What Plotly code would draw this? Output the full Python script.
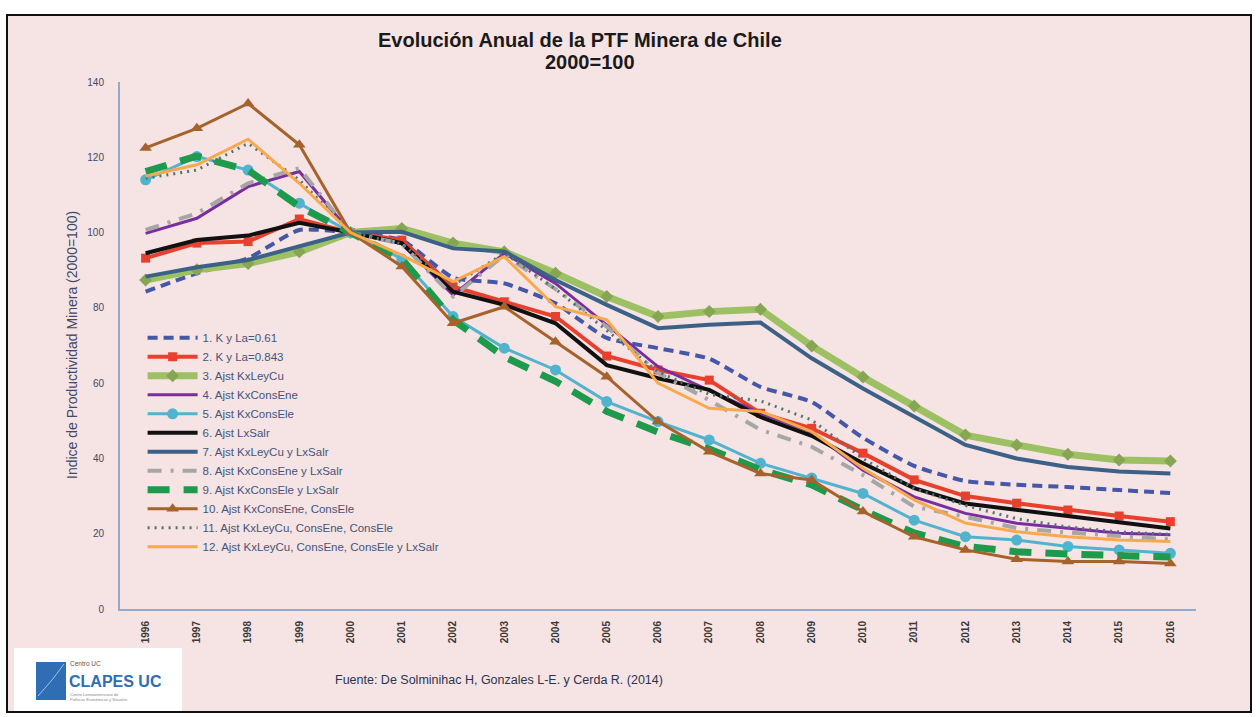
import plotly.graph_objects as go

# Índice de productividad total de factores (PTF) minera, base 2000 = 100
years = list(range(1996, 2017))

k_la_061 = [84.3, 89.2, 93.2, 100.7, 100, 98.0, 88.0, 86.5, 81.2, 72.0, 69.3, 66.5, 59.0, 55.0, 45.5, 38.0, 34.0, 33.0, 32.4, 31.6, 30.8]
k_la_0843 = [93.2, 97.2, 97.6, 103.6, 100, 98.0, 85.6, 81.6, 77.7, 67.2, 63.5, 60.8, 52.0, 48.0, 41.4, 34.3, 30.0, 28.1, 26.3, 24.7, 23.2]
ajst_ley_cu = [87.4, 90.1, 91.8, 94.9, 100, 101.1, 97.2, 94.9, 89.2, 83.0, 77.7, 79.0, 79.6, 69.9, 61.6, 53.9, 46.2, 43.6, 41.1, 39.6, 39.3]
ajst_cons_ene = [99.8, 103.8, 112.2, 116.2, 100, 97.0, 83.4, 94.5, 86.5, 75.5, 64.4, 58.0, 52.0, 47.0, 36.9, 29.8, 25.4, 22.8, 21.4, 20.1, 19.7]
ajst_cons_ele = [114.0, 120.2, 116.6, 107.8, 100, 93.0, 77.7, 69.3, 63.5, 55.1, 49.8, 44.9, 38.7, 34.8, 30.7, 23.6, 19.2, 18.3, 16.6, 15.7, 14.8]
ajst_lx_salr = [94.5, 98.0, 99.2, 102.6, 100, 97.2, 84.3, 80.8, 75.9, 64.8, 61.3, 58.2, 51.0, 46.0, 38.7, 32.1, 28.0, 26.3, 24.8, 23.1, 21.4]
ajst_ley_cu_lx = [88.3, 90.8, 92.7, 96.3, 100, 100.2, 95.8, 95.0, 87.4, 80.8, 74.6, 75.5, 76.1, 66.6, 58.6, 51.1, 43.6, 40.0, 37.7, 36.5, 36.0]
ajst_ene_lx = [100.7, 105.1, 113.1, 117.1, 100, 97.0, 83.0, 94.0, 85.0, 75.0, 62.7, 55.5, 47.6, 43.1, 35.6, 27.2, 24.5, 21.5, 20.3, 19.3, 18.5]
ajst_ele_lx = [116.2, 120.3, 116.6, 106.9, 100, 93.0, 76.8, 67.0, 60.5, 52.5, 47.0, 42.5, 37.0, 33.0, 26.3, 20.2, 16.6, 15.2, 14.6, 14.1, 13.8]
ajst_ene_ele = [122.5, 127.7, 134.3, 123.3, 100, 91.0, 75.9, 80.3, 71.0, 61.7, 49.8, 41.8, 36.0, 34.3, 25.9, 19.2, 15.7, 13.2, 12.6, 12.6, 12.1]
ajst_cu_ene_ele = [114.4, 116.6, 123.7, 114.0, 100, 97.0, 86.0, 94.5, 85.0, 74.0, 63.0, 57.0, 55.3, 50.2, 40.0, 32.0, 27.5, 24.0, 21.8, 20.5, 19.8]
ajst_todos = [115.0, 118.0, 124.8, 113.1, 100, 94.0, 87.0, 93.6, 80.3, 76.8, 60.0, 53.3, 52.5, 47.1, 37.4, 29.0, 22.8, 20.5, 19.2, 18.3, 17.9]

series_names = [
    "1. K y La=0.61",
    "2. K y La=0.843",
    "3. Ajst KxLeyCu",
    "4. Ajst KxConsEne",
    "5. Ajst KxConsEle",
    "6. Ajst LxSalr",
    "7. Ajst KxLeyCu y LxSalr",
    "8. Ajst KxConsEne y LxSalr",
    "9. Ajst KxConsEle y LxSalr",
    "10. Ajst KxConsEne, ConsEle",
    "11. Ajst KxLeyCu, ConsEne, ConsEle",
    "12. Ajst KxLeyCu, ConsEne, ConsEle y LxSalr",
]
series_values = [k_la_061, k_la_0843, ajst_ley_cu, ajst_cons_ene, ajst_cons_ele, ajst_lx_salr,
                 ajst_ley_cu_lx, ajst_ene_lx, ajst_ele_lx, ajst_ene_ele, ajst_cu_ene_ele, ajst_todos]

# line / marker style per series
styles = [
    dict(line=dict(color="#4557A8", width=4, dash="10px,6px", shape="spline", smoothing=0.5), mode="lines"),
    dict(line=dict(color="#E8402E", width=4), mode="lines+markers",
         marker=dict(symbol="square", size=9, color="#E8402E")),
    dict(line=dict(color="#9DC062", width=7), mode="lines+markers",
         marker=dict(symbol="diamond", size=10, color="#86A653")),
    dict(line=dict(color="#7A2E9E", width=3), mode="lines"),
    dict(line=dict(color="#52B3CF", width=3), mode="lines+markers",
         marker=dict(symbol="circle", size=11, color="#52B3CF")),
    dict(line=dict(color="#111111", width=4), mode="lines"),
    dict(line=dict(color="#3C6189", width=4), mode="lines"),
    dict(line=dict(color="#A6A6A6", width=4, dash="14px,9px,3px,9px"), mode="lines"),
    dict(line=dict(color="#1E9A4C", width=7, dash="22px,14px"), mode="lines"),
    dict(line=dict(color="#A5622B", width=3), mode="lines+markers",
         marker=dict(symbol="triangle-up", size=11, color="#A5622B")),
    dict(line=dict(color="#4F7572", width=3, dash="2px,5px"), mode="lines"),
    dict(line=dict(color="#F7A94C", width=3), mode="lines"),
]

fig = go.Figure()
for name, vals, st in zip(series_names, series_values, styles):
    fig.add_trace(go.Scatter(x=years, y=vals, name=name, **st))

FONT = "Liberation Sans, Arial, sans-serif"

# plot area in pixels: x 120..1196, y 82..609
L, R, T, B = 120, 1196, 82, 609


def px(xp):
    return (xp - L) / (R - L)


def py(yp):
    return (B - yp) / (B - T)


shapes = [
    # pink panel with black frame
    dict(type="rect", xref="paper", yref="paper", x0=px(7), x1=px(1251), y0=py(712), y1=py(15),
         fillcolor="#F6E3E3", line=dict(color="#111111", width=2), layer="below"),
    # logo box
    dict(type="rect", xref="paper", yref="paper", x0=px(14), x1=px(182), y0=py(711), y1=py(648),
         fillcolor="#FFFFFF", line=dict(width=0), layer="below"),
    dict(type="rect", xref="paper", yref="paper", x0=px(36), x1=px(66), y0=py(700), y1=py(662),
         fillcolor="#2F6DB5", line=dict(width=0), layer="below"),
    dict(type="path", xref="paper", yref="paper",
         path=f"M {px(38)},{py(696)} L {px(52)},{py(680)} L {px(64)},{py(664)}",
         line=dict(color="#9CC0E6", width=1), layer="below"),
]

annotations = [
    dict(text="<b>Evolución Anual de la PTF Minera de Chile</b>", x=px(580), y=py(40),
         xref="paper", yref="paper", xanchor="center", yanchor="middle", showarrow=False,
         font=dict(family=FONT, size=20, color="#1A1A1A")),
    dict(text="<b>2000=100</b>", x=px(590), y=py(62), xref="paper", yref="paper",
         xanchor="center", yanchor="middle", showarrow=False,
         font=dict(family=FONT, size=20, color="#1A1A1A")),
    dict(text="Indice de Productividad Minera (2000=100)", x=px(72), y=py(345), xref="paper", yref="paper",
         xanchor="center", yanchor="middle", showarrow=False, textangle=-90,
         font=dict(family=FONT, size=14, color="#3E4A6A")),
    dict(text="Fuente: De Solminihac H, Gonzales L-E. y Cerda R. (2014)", x=px(333), y=py(680),
         xref="paper", yref="paper", xanchor="left", yanchor="middle", showarrow=False,
         font=dict(family=FONT, size=12.5, color="#2A3550")),
    dict(text="Centro UC", x=px(68), y=py(663), xref="paper", yref="paper", xanchor="left",
         yanchor="middle", showarrow=False, font=dict(family=FONT, size=6.5, color="#555555")),
    dict(text="<b>CLAPES UC</b>", x=px(67), y=py(681), xref="paper", yref="paper", xanchor="left",
         yanchor="middle", showarrow=False, font=dict(family=FONT, size=16, color="#2F6DB5")),
    dict(text="Centro Latinoamericano de<br>Políticas Económicas y Sociales", x=px(68), y=py(697),
         xref="paper", yref="paper", xanchor="left", yanchor="middle", showarrow=False, align="left",
         font=dict(family=FONT, size=4, color="#888888")),
]

fig.update_layout(
    width=1260, height=717,
    margin=dict(l=L, r=1260 - R, t=T, b=717 - B),
    paper_bgcolor="#FFFFFF",
    plot_bgcolor="rgba(0,0,0,0)",
    font=dict(family=FONT, color="#3E4A6A"),
    shapes=shapes,
    annotations=annotations,
    legend=dict(x=0.021, y=0.542, xanchor="left", yanchor="top", bgcolor="rgba(0,0,0,0)",
                font=dict(family=FONT, size=11.5, color="#44557A"), tracegroupgap=0,
                itemwidth=50),
    showlegend=True,
)

fig.update_xaxes(
    range=[1995.5, 2016.5], tickmode="array", tickvals=years, ticktext=[f"<b>{y}</b>" for y in years],
    tickangle=-90, showgrid=False, zeroline=False, showline=True, linecolor="#94AACB", linewidth=2,
    ticks="", ticklabelstandoff=6, tickfont=dict(family=FONT, size=10, color="#3A3A3A"),
)
fig.update_yaxes(
    range=[0, 140], dtick=20, showgrid=False, zeroline=False, showline=True, linecolor="#94AACB",
    linewidth=2, ticks="", ticklabelstandoff=12, tickfont=dict(family=FONT, size=10, color="#3E4A6A"),
)

fig.write_html("out.html")
